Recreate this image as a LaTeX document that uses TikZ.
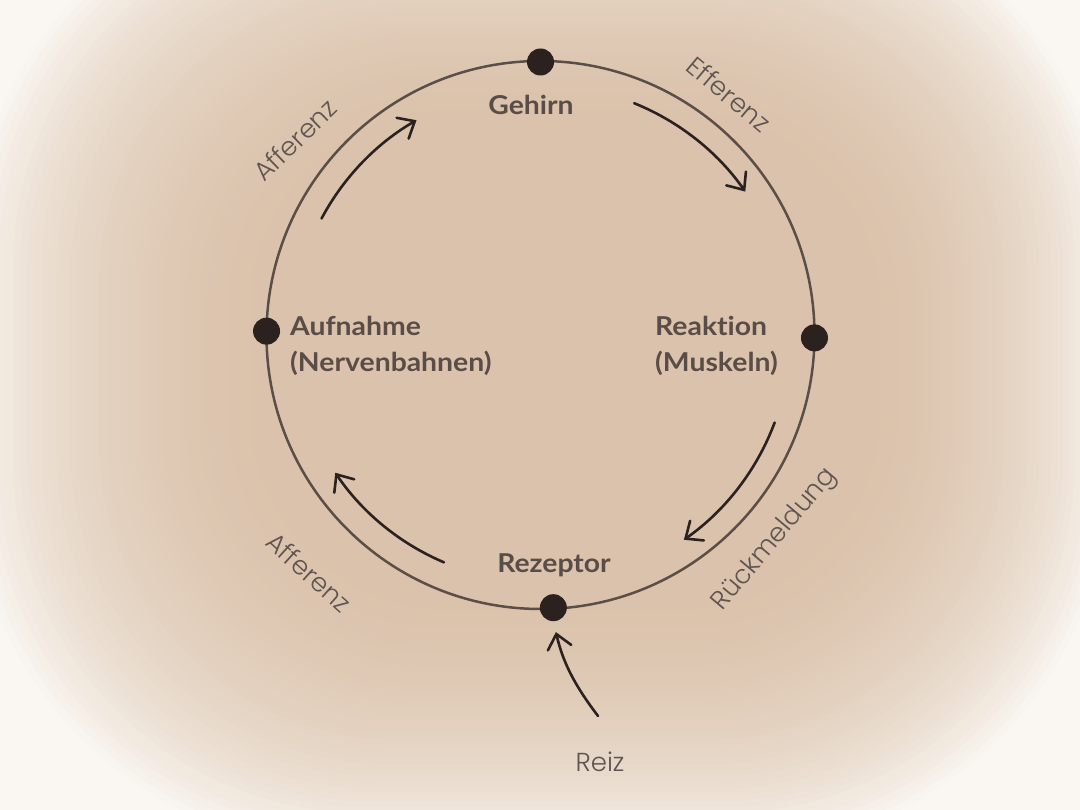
\documentclass[tikz,border=0pt]{standalone}
\usepackage{fontspec}
\newfontfamily\labfont{Lato}[Ligatures=NoCommon, FakeStretch=1.09]
\newfontfamily\thinfont{Poppins Light}
\usetikzlibrary{arrows.meta,calc}
\definecolor{bgbase}{HTML}{FAF7F3}
\definecolor{bgtan}{HTML}{D5B99F}
\definecolor{ink}{HTML}{2B2220}
\definecolor{ringc}{HTML}{4C423D}
\definecolor{labc}{HTML}{5A4C46}
\definecolor{thinc}{HTML}{5F5450}
\tikzset{
  ring/.style={draw=ringc, line width=2.5pt, opacity=0.9},
  dot/.style={circle, fill=ink, minimum size=27pt, inner sep=0pt},
  lab/.style={font=\labfont\bfseries\fontsize{26}{36}\selectfont, text=labc, inner sep=0pt, align=left},
  thin/.style={font=\thinfont\fontsize{26}{30}\selectfont, text=thinc, inner sep=0pt},
  arr/.style={draw=ink, line width=2.6pt, line cap=round, -{Straight Barb[length=14pt,width=24pt,line cap=round]}},
}
\begin{document}
\begin{tikzpicture}[x=1pt,y=1pt]
\useasboundingbox (0,0) rectangle (1080,810);
\fill[bgbase] (0,0) rectangle (1080,810);
\foreach \k in {0,...,39}{
  \pgfmathsetmacro\t{\k/39}
  \pgfmathsetmacro\xl{-30+280*\t}
  \pgfmathsetmacro\xr{1110-230*\t}
  \pgfmathsetmacro\yb{-40+240*\t}
  \pgfmathsetmacro\yt{930-230*\t}
  \pgfmathsetmacro\rr{380-180*\t}
  \pgfmathsetmacro\p{100*(1-0.9537^(\k+1))}
  \fill[bgtan!\p!bgbase, rounded corners=\rr pt] (\xl,\yb) rectangle (\xr,\yt);
}
\coordinate (C) at (540.5,475);
\draw[ring] (C) circle[radius=274];
% dots
\node[dot] (gehirnDot) at ($(C)+(90:273)$) {};
\node[dot] (aufDot) at ($(C)+(179.2:274)$) {};
\node[dot] (reakDot) at ($(C)+(-0.6:274)$) {};
\node[dot] (rezDot) at ($(C)+(-87.3:273)$) {};
% labels
\node[lab, anchor=base] (gehirn) at (531,695) {Gehirn};
\node[lab, anchor=north west] (auf) at (290,494) {Aufnahme\\(Nervenbahnen)};
\node[lab, anchor=north west] (reak) at (655,494) {Reaktion\\(Muskeln)};
\node[lab, anchor=base] (rez) at (554,237) {Rezeptor};
\node[thin, anchor=base] (reiz) at (600,38) {Reiz};
% rotated labels
\node[thin, rotate=44] (aff1) at (295,670) {Afferenz};
\node[thin, rotate=-40] (eff) at (729,716) {Efferenz};
\node[thin, rotate=-42] (aff2) at (309,238) {Afferenz};
\node[thin, rotate=50] (rueck) at (775,270) {Rückmeldung};
% arrows
\draw[arr] ($(C)+(152:248)$) arc[start angle=152, end angle=120, radius=248];
\draw[arr] ($(C)+(68:250)$) arc[start angle=68, end angle=35, radius=250];
\draw[arr] ($(C)+(-20.5:250)$) arc[start angle=-20.5, end angle=-55, radius=250];
\draw[arr] ($(C)+(-113:247)$) arc[start angle=-113, end angle=-146, radius=248];
\coordinate (reizStart) at (598,94);
\draw[arr, shorten >=11pt] (reizStart) to[bend left=12] (rezDot.south);
\end{tikzpicture}
\end{document}
